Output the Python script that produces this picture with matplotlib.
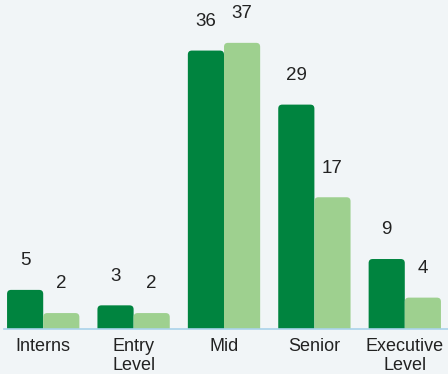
import numpy as np
import matplotlib.pyplot as plt
from matplotlib.patches import FancyBboxPatch

# уровни должностей и два ряда значений
levels = ['Interns', 'Entry\nLevel', 'Mid', 'Senior', 'Executive\nLevel']
series_a = [5, 3, 36, 29, 9]
series_b = [2, 2, 37, 17, 4]

dark = '#00843f'
light = '#9ed08f'
bg = '#f1f5f7'

plt.rcParams['font.family'] = ['Liberation Sans', 'DejaVu Sans']

fig = plt.figure(figsize=(4.48, 3.74), dpi=100, facecolor=bg)
ax = fig.add_axes([0, 45.5 / 374, 1, 328.5 / 374])
ax.set_facecolor(bg)

x = np.arange(len(levels))
w = 0.40
ax.set_xlim(-0.478, 4.478)
ax.set_ylim(0, 42.55)


def rounded(bars, color, radius_px=4):
    # скругляем верхние углы: прямоугольник уходит ниже нуля и обрезается осью
    px_x = ax.transData.transform((1, 0))[0] - ax.transData.transform((0, 0))[0]
    px_y = ax.transData.transform((0, 1))[1] - ax.transData.transform((0, 0))[1]
    rx = radius_px / px_x
    ry = radius_px / px_y
    for r in bars:
        x0, h, bw = r.get_x(), r.get_height(), r.get_width()
        r.remove()
        p = FancyBboxPatch((x0, -ry), bw, h + ry,
                           boxstyle=f'round,pad=0,rounding_size={rx}',
                           mutation_aspect=ry / rx,
                           facecolor=color, edgecolor='none', zorder=2)
        ax.add_patch(p)


b1 = ax.bar(x - w / 2, series_a, w, color=dark)
b2 = ax.bar(x + w / 2, series_b, w, color=light)
rounded(b1, dark)
rounded(b2, light)

for xs, vals in ((x - w / 2, series_a), (x + w / 2, series_b)):
    for xi, v in zip(xs, vals):
        ax.annotate(str(v), (xi, v), xytext=(0, 21), textcoords='offset points',
                    ha='center', va='center', fontsize=13.5, color='#222222')

ax.axhline(0, xmin=4 / 448, xmax=1, color='#a9d3ea', lw=1.2, zorder=3, clip_on=False)

for s in ax.spines.values():
    s.set_visible(False)
ax.set_yticks([])
ax.set_xticks(x)
ax.set_xticklabels(levels, fontsize=13, color='#222222', linespacing=1.2)
ax.tick_params(axis='x', length=0, pad=6.5)

fig.savefig('out.png', dpi=100, facecolor=bg)
